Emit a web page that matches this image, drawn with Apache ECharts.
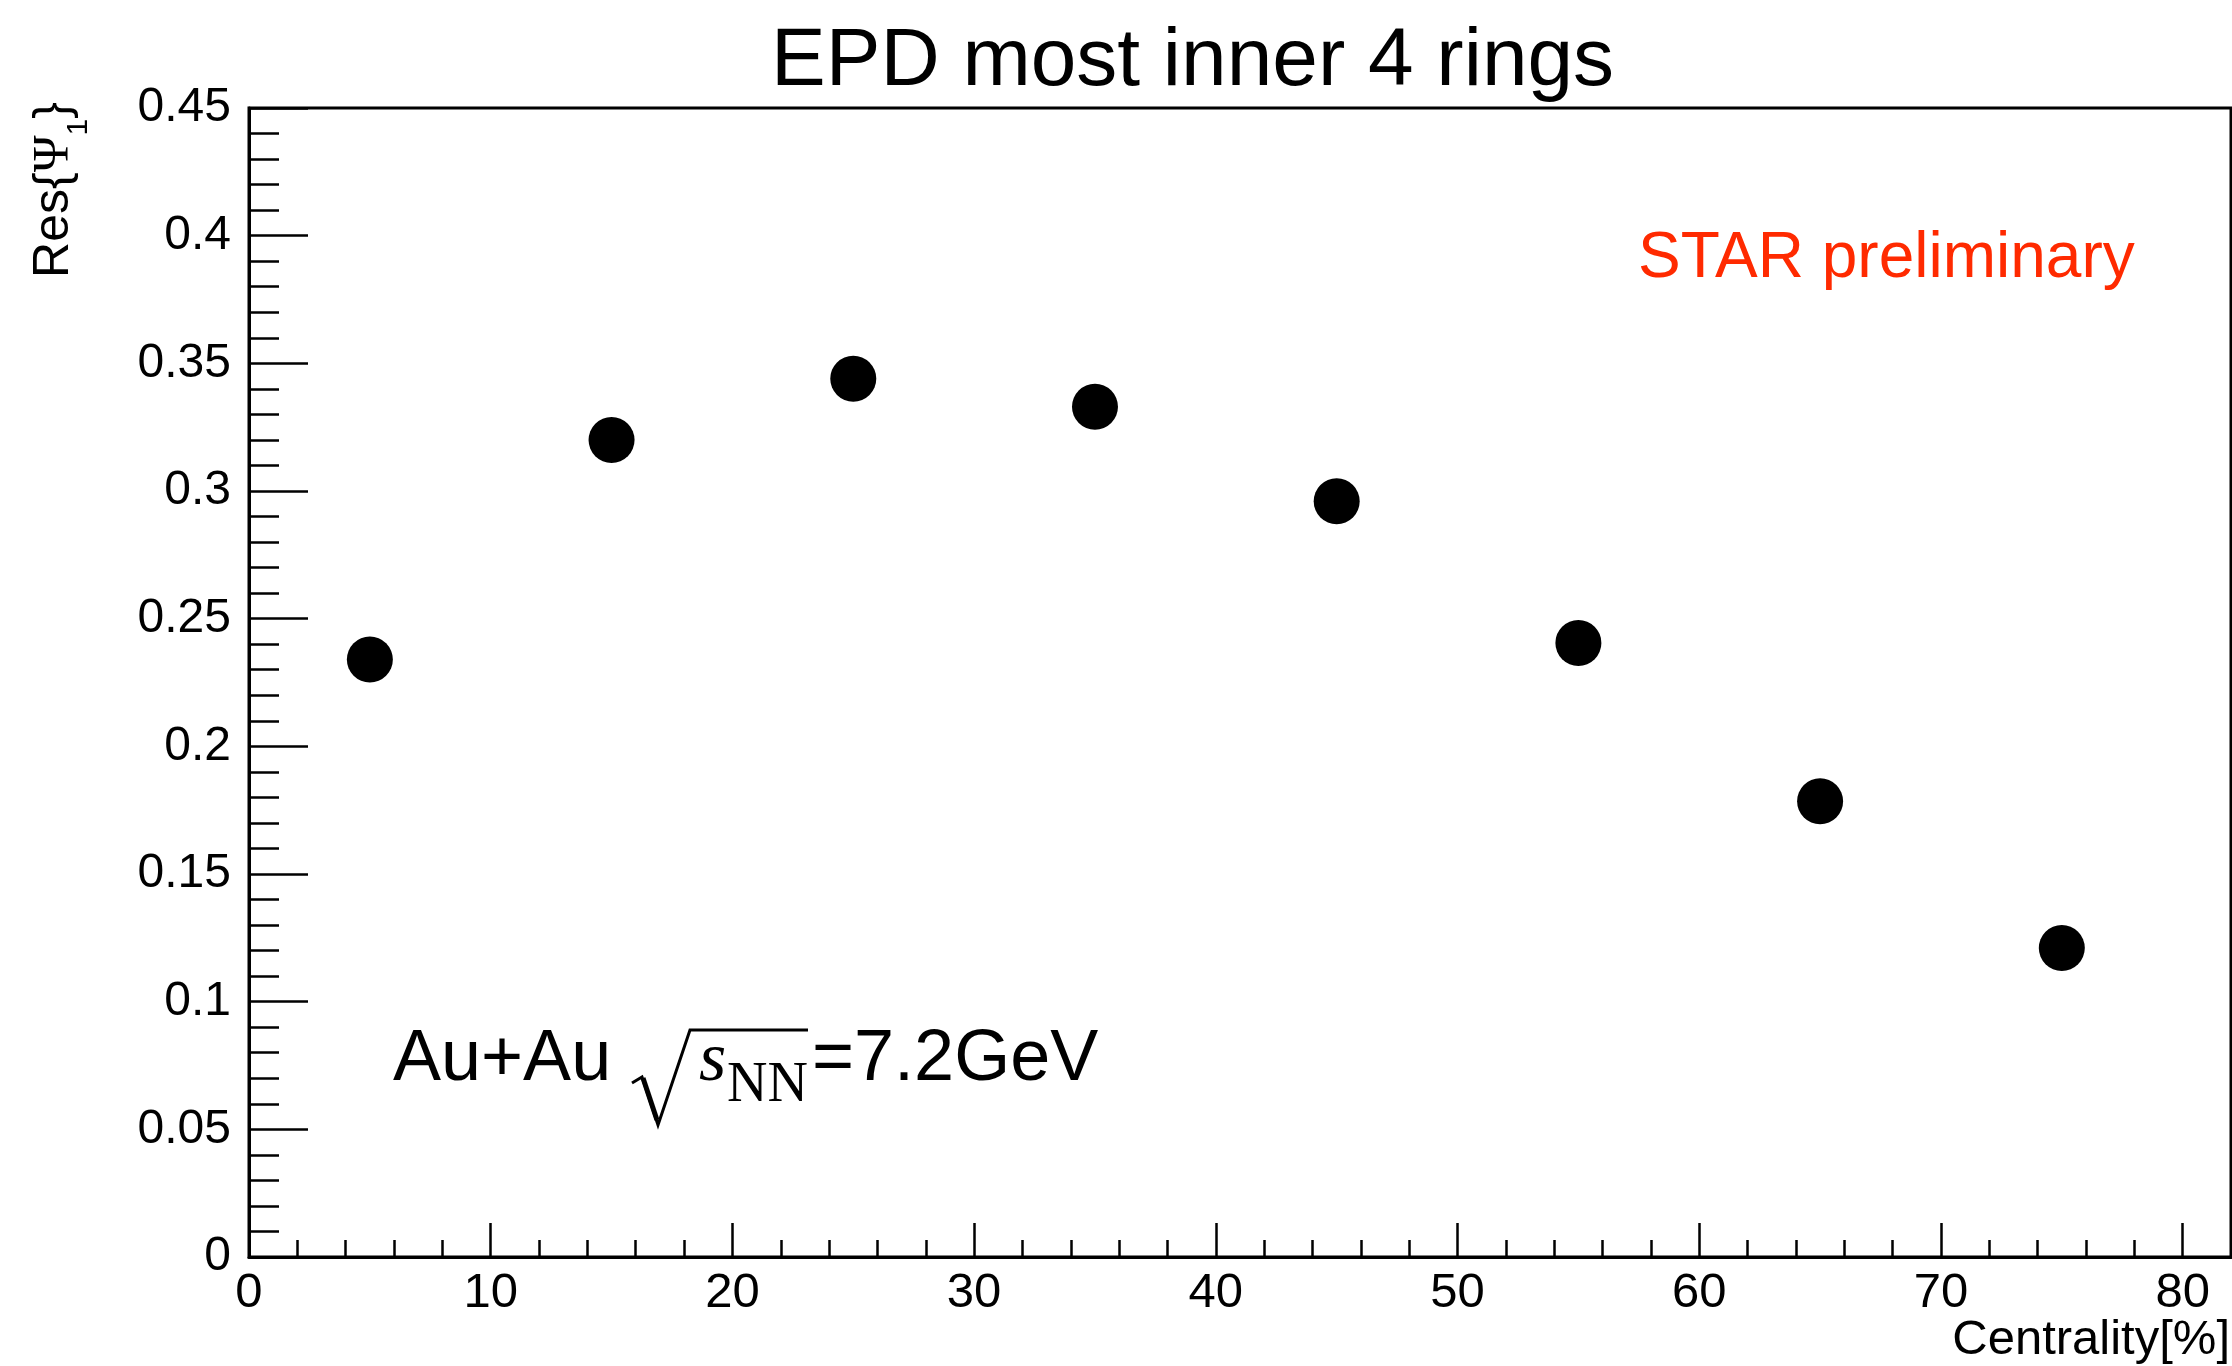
<!DOCTYPE html>
<html><head><meta charset="utf-8">
<script src="https://cdn.jsdelivr.net/npm/echarts@6/dist/echarts.min.js"></script>
<style>html,body{margin:0;padding:0;background:#fff}#c{width:2232px;height:1366px}</style>
</head><body><div id="c"></div>
<script>
// Data
const centrality = [5, 15, 25, 35, 45, 55, 65, 75];
const resPsi1 = [0.234, 0.320, 0.344, 0.333, 0.296, 0.2405, 0.1785, 0.121];
const xTickValues = [0, 10, 20, 30, 40, 50, 60, 70, 80];
const yTickValues = [0, 0.05, 0.1, 0.15, 0.2, 0.25, 0.3, 0.35, 0.4, 0.45];

const titleText = 'EPD most inner 4 rings';
const xTitle = 'Centrality[%]';
const starLabel = 'STAR preliminary';

const points = centrality.map((c, i) => [c, resPsi1[i]]);

const SANS = '"Liberation Sans", Arial, Helvetica, sans-serif';
const SERIF = '"Liberation Serif", "Times New Roman", serif';

const chart = echarts.init(document.getElementById('c'), null, {renderer: 'canvas'});
chart.setOption({
  animation: false,
  backgroundColor: '#ffffff',
  title: {
    text: titleText,
    left: 766, top: 16,
    textStyle: {fontFamily: SANS, fontSize: 82, fontWeight: 'normal', color: '#000'}
  },
  grid: {left: 249, top: 108, right: 1, bottom: 109, containLabel: false, outerBoundsMode: 'none',
    show: true, borderColor: '#000', borderWidth: 3, backgroundColor: 'transparent'},
  xAxis: [{
    type: 'value', min: 0, max: 82, interval: 10,
    position: 'bottom',
    axisLine: {show: true, onZero: false, lineStyle: {color: '#000', width: 3}},
    axisTick: {show: true, inside: true, length: 34, lineStyle: {color: '#000', width: 2.5}},
    minorTick: {show: false},
    axisLabel: {show: true, fontFamily: SANS, fontSize: 49, color: '#000', margin: 12, showMaxLabel: false,
      formatter: v => xTickValues.includes(v) ? String(v) : ''},
    splitLine: {show: false}
  }, {
    type: 'value', min: 0, max: 82, interval: 2,
    position: 'bottom', gridIndex: 0,
    axisLine: {show: false},
    axisTick: {show: true, inside: true, length: 17, lineStyle: {color: '#000', width: 2.5}},
    axisLabel: {show: false},
    splitLine: {show: false}
  }],
  yAxis: {
    type: 'value', min: 0, max: 0.45, interval: 0.05,
    axisLine: {show: true, onZero: false, lineStyle: {color: '#000', width: 3}},
    axisTick: {show: true, inside: true, length: 59, lineStyle: {color: '#000', width: 2.5}},
    minorTick: {show: true, splitNumber: 5, length: 30, lineStyle: {color: '#000', width: 2.5}},
    axisLabel: {show: true, fontFamily: SANS, fontSize: 48, color: '#000', margin: 18,
      formatter: v => String(parseFloat(v.toFixed(2)))},
    splitLine: {show: false}
  },
  series: [{
    type: 'scatter', xAxisIndex: 0, yAxisIndex: 0,
    data: points, symbol: 'circle', symbolSize: 46,
    itemStyle: {color: '#000', opacity: 1}
  }],
  graphic: [
    {type: 'text', x: 54, y: 102, rotation: Math.PI / 2,
      style: {text: '{r|Res{}{p|\u03A8}{s|1}}', align: 'right', verticalAlign: 'middle',
        fontFamily: SANS, fontSize: 50, fill: '#000',
        rich: {
          r: {fontFamily: SANS, fontSize: 50, lineHeight: 80, verticalAlign: 'middle'},
          p: {fontFamily: SERIF, fontSize: 50, lineHeight: 80, verticalAlign: 'middle'},
          s: {fontFamily: SANS, fontSize: 30, lineHeight: 30, verticalAlign: 'bottom'}
        }}},
    {type: 'text', x: 2230, y: 1340,
      style: {text: xTitle, fontFamily: SANS, fontSize: 49, fill: '#000', align: 'right', verticalAlign: 'middle'}},
    {type: 'text', x: 1638, y: 259,
      style: {text: starLabel, fontFamily: SANS, fontSize: 64, fill: '#ff2a00', align: 'left', verticalAlign: 'middle'}},
    {type: 'text', x: 393, y: 1060,
      style: {text: 'Au+Au', fontFamily: SANS, fontSize: 72, fill: '#000', align: 'left', verticalAlign: 'middle'}},
    {type: 'polyline', shape: {points: [[632, 1083], [642, 1077], [658, 1125], [690, 1030], [808, 1030]]},
      style: {stroke: '#000', lineWidth: 3, fill: null}},
    {type: 'line', shape: {x1: 643, y1: 1078, x2: 657, y2: 1120}, style: {stroke: '#000', lineWidth: 5}},
    {type: 'text', x: 699, y: 1062,
      style: {text: 's', fontFamily: SERIF, fontStyle: 'italic', fontSize: 70, fill: '#000', align: 'left', verticalAlign: 'middle'}},
    {type: 'text', x: 727, y: 1086,
      style: {text: 'NN', fontFamily: SERIF, fontSize: 56, fill: '#000', align: 'left', verticalAlign: 'middle'}},
    {type: 'text', x: 812, y: 1060,
      style: {text: '=7.2GeV', fontFamily: SANS, fontSize: 72, fill: '#000', align: 'left', verticalAlign: 'middle'}}
  ]
});
</script>
</body></html>
